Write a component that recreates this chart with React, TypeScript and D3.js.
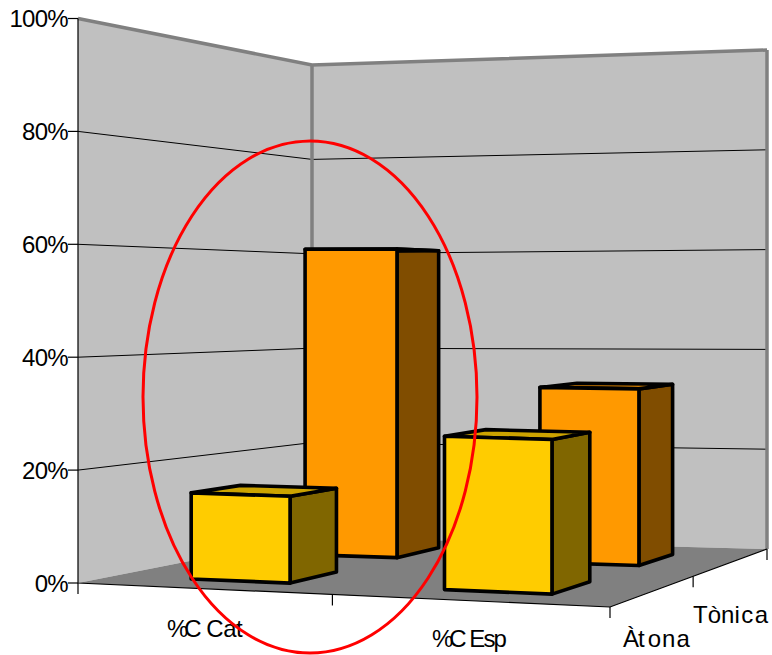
import React from "react";
import * as d3 from "d3";

const categories = ["%C Cat", "%C Esp"];
const seriesNames = ["Àtona", "Tònica"];
const atonaValues = [15.5, 27];
const tonicaValues = [60, 33.5];
const valueTicks = [0, 20, 40, 60, 80, 100];

type P = [number, number];
const W = 772, H = 655;
const FONT = "Liberation Sans, Arial, sans-serif";

function homography(p0: P, p1: P, p2: P, p3: P) {
  const dx3 = p0[0] - p1[0] + p2[0] - p3[0], dy3 = p0[1] - p1[1] + p2[1] - p3[1];
  const dx1 = p1[0] - p2[0], dy1 = p1[1] - p2[1];
  const dx2 = p3[0] - p2[0], dy2 = p3[1] - p2[1];
  const det = dx1 * dy2 - dx2 * dy1;
  const g = (dx3 * dy2 - dx2 * dy3) / det;
  const h = (dx1 * dy3 - dx3 * dy1) / det;
  const a = p1[0] - p0[0] + g * p1[0], b = p3[0] - p0[0] + h * p3[0];
  const d = p1[1] - p0[1] + g * p1[1], e = p3[1] - p0[1] + h * p3[1];
  return (u: number, v: number): P => {
    const w = g * u + h * v + 1;
    return [(a * u + b * v + p0[0]) / w, (d * u + e * v + p0[1]) / w];
  };
}

const A: P = [78, 583], B: P = [610, 607], C: P = [767, 549], D: P = [312, 537];
const persp = homography(A, B, C, D);
const bil = (q: number[], u: number, d: number) =>
  (1 - u) * (1 - d) * q[0] + u * (1 - d) * q[1] + u * d * q[2] + (1 - u) * d * q[3];
// floor plane: half perspective, half bilinear
const floor = (u: number, d: number): P => {
  const p = persp(u, d);
  return [
    (p[0] + bil([A[0], B[0], C[0], D[0]], u, d)) / 2,
    (p[1] + bil([A[1], B[1], C[1], D[1]], u, d)) / 2,
  ];
};
const wallHeights = [564.5, 590, 499, 472];
const yScale = d3.scaleLinear().domain([0, 100]).range([0, 1]);
const project = (u: number, d: number, value: number): P => {
  const f = floor(u, d);
  return [f[0], f[1] - yScale(value) * bil(wallHeights, u, d)];
};
const xBand = d3.scaleBand<string>().domain(categories).range([0.008, 1]).paddingInner(0.6).paddingOuter(0.3);
const dBand = d3.scaleBand<string>().domain(seriesNames).range([0, 1]).paddingInner(0.58).paddingOuter(0.29);

const path = (pts: P[], close = true) => (d3.line()(pts) as string) + (close ? "Z" : "");

const barColors: Record<string, { front: string; side: string; top: string }> = {
  "Àtona": { front: "#FFCC00", side: "#806600", top: "#CCA300" },
  "Tònica": { front: "#FF9900", side: "#804D00", top: "#CC7A00" },
};

function Bar({ cat, series, value }: { cat: string; series: string; value: number }) {
  const u0 = xBand(cat)!, u1 = u0 + xBand.bandwidth();
  const d0 = dBand(series)!, d1 = d0 + dBand.bandwidth();
  const c = barColors[series];
  const st = { stroke: "#000", strokeWidth: 3.6, strokeLinejoin: "round" as const };
  return (
    <g>
      <path d={path([project(u1, d0, 0), project(u1, d1, 0), project(u1, d1, value), project(u1, d0, value)])} fill={c.side} {...st} />
      <path d={path([project(u0, d0, value), project(u1, d0, value), project(u1, d1, value), project(u0, d1, value)])} fill={c.top} {...st} />
      <path d={path([project(u0, d0, 0), project(u1, d0, 0), project(u1, d0, value), project(u0, d0, value)])} fill={c.front} {...st} />
    </g>
  );
}

export default function App() {
  const axis = { stroke: "#000", strokeWidth: 1.2, fill: "none" };
  const grey = { stroke: "#808080", strokeWidth: 3.5, fill: "none" };
  const textSt = { fontFamily: FONT, fontSize: 24, fill: "#000", style: { fontKerning: "none" as const } };
  return (
    <svg width={W} height={H} viewBox={`0 0 ${W} ${H}`} style={{ position: "absolute", left: 0, top: 0, background: "#fff" }}>
      <path d={path([project(0, 0, 0), project(0, 0, 100), project(0, 1, 100), project(0, 1, 0)])} fill="#C0C0C0" />
      <path d={path([project(0, 1, 0), project(0, 1, 100), project(1, 1, 100), project(1, 1, 0)])} fill="#C0C0C0" />
      <path d={path([floor(0, 0), floor(1, 0), floor(1, 1), floor(0, 1)])} fill="#808080" />
      {valueTicks.filter((v) => v > 0 && v < 100).map((v) => (
        <path key={v} d={path([project(0, 0, v), project(0, 1, v), project(1, 1, v)], false)} stroke="#000" strokeWidth={1} fill="none" />
      ))}
      <path d={path([project(0, 0, 100), project(0, 1, 100), project(1, 1, 100)], false)} {...grey} />
      <path d={path([project(0, 1, 0), project(0, 1, 100)], false)} {...grey} />
      <path d={path([project(1, 1, 0), project(1, 1, 100)], false)} {...grey} />

      {[...seriesNames].reverse().map((s) =>
        categories.map((c, i) => (
          <Bar key={s + c} cat={c} series={s} value={(s === "Àtona" ? atonaValues : tonicaValues)[i]} />
        ))
      )}

      <path d={path([project(0, 0, 100), project(0, 0, 0), floor(1, 0), floor(1, 1)], false)} {...axis} />
      {valueTicks.map((v) => {
        const [x, y] = project(0, 0, v);
        return (
          <g key={v}>
            <line x1={x - 10} x2={x} y1={y} y2={y} {...axis} />
            <text x={x - 10} y={y + 8.5} textAnchor="end" {...textSt} letterSpacing={-0.7}>{v}%</text>
          </g>
        );
      })}
      {[0, 0.5, 1].map((u) => {
        const [x, y] = floor(u, 0);
        return <line key={u} x1={x} x2={x} y1={y} y2={y + 11} {...axis} />;
      })}
      {[0.5, 1].map((d) => {
        const [x, y] = floor(1, d);
        return <line key={d} x1={x} x2={x} y1={y} y2={y + 11} {...axis} />;
      })}
      <text x={167} y={636.5} dx="0 -4 -1 -1 -0.5 -0.5" {...textSt}>{categories[0]}</text>
      <text x={432} y={646.5} dx="0 -4 -2 -2 -2 -2" {...textSt}>{categories[1]}</text>
      <text x={623} y={647} dx="0 -1 3 1 1" {...textSt}>{seriesNames[0]}</text>
      <text x={693} y={622.5} dx="0 0 0 0 1.5 1.5" {...textSt}>{seriesNames[1]}</text>

      <ellipse cx={310} cy={397} rx={167} ry={256} fill="none" stroke="#FF0000" strokeWidth={3} />
    </svg>
  );
}
